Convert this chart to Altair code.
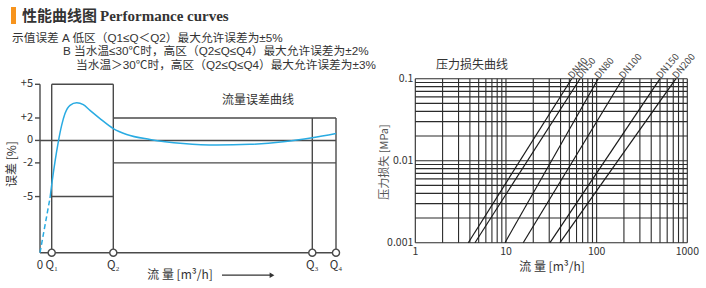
import altair as alt
import pandas as pd

# ---------------- data : left chart (flow error curve) ----------------
q_labels = ["Q₁", "Q₂", "Q₃", "Q₄"]
q_pos = [11.7, 73.3, 272.3, 296.0]          # flow positions (arbitrary units)
low_limit = 5                               # ±5 % low zone
high_limit = 2                              # ±2 % high zone
err_ticks = [5, 2, 0, -2, -5]
err_tick_labels = ["+5", "+2", "0", "-2", "-5"]
err_min = -10

dash_x = [0, 10.0]
dash_y = [-10, -5.13]
curve_x = [10.0, 11.7, 15.0, 18.3, 21.7, 25.0, 30.0, 36.7, 43.3, 50.0, 60.0,
           73.3, 86.7, 110.0, 143.3, 176.7, 210.0, 243.3, 272.3, 296.0]
curve_y = [-5.13, -3.95, -1.89, -0.12, 1.36, 2.39, 3.13, 3.36, 3.19, 2.68, 1.95,
           1.06, 0.53, 0.09, -0.27, -0.41, -0.35, -0.12, 0.24, 0.62]

# ---------------- data : right chart (pressure loss) ----------------
dn_names = ["DN40", "DN50", "DN80", "DN100", "DN150", "DN200"]
dn_flow_at_min = [3.84, 4.55, 9.75, 15.5, 30.6, 39.4]     # m3/h at 0.001 MPa
dn_flow_at_max = [53.1, 65.6, 104.0, 194.0, 500.0, 750.0]  # m3/h at 0.1 MPa
p_min, p_max = 0.001, 0.1
grid_flow = [1, 2, 3, 4, 5, 6, 7, 8, 9, 10, 20, 30, 40, 50, 60, 70, 80, 90,
             100, 200, 300, 400, 500, 600, 700, 800, 900, 1000]
grid_p = [0.001, 0.002, 0.003, 0.004, 0.005, 0.006, 0.007, 0.008, 0.009,
          0.01, 0.02, 0.03, 0.04, 0.05, 0.06, 0.07, 0.08, 0.09, 0.1]
flow_tick_vals = [1, 10, 100, 1000]
flow_tick_labels = ["1", "10", "100", "1000"]
p_tick_vals = [0.1, 0.01, 0.001]
p_tick_labels = ["0.1", "0.01", "0.001"]

# ---------------- texts ----------------
title_cn = "性能曲线图"
title_en = "Performance curves"
spec_lines = ["示值误差  A 低区（Q1≤Q＜Q2）最大允许误差为±5%",
              "B 当水温≤30℃时，高区（Q2≤Q≤Q4）最大允许误差为±2%",
              "当水温＞30℃时，高区（Q2≤Q≤Q4）最大允许误差为±3%"]
left_note = "流量误差曲线"
left_xtitle = "流 量  [m³/h]"
left_ytitle = "误差  [%]"
right_title = "压力损失曲线"
right_xtitle = "流 量  [m³/h]"
right_ytitle = "压力损失  [MPa]"

FONT = "Noto Sans CJK SC"
SPEC_FONT = "Liberation Sans, Noto Sans CJK SC"
LINE = "#4a4a4a"
TXT = "#333333"

# ---------------- scales ----------------
xL = alt.Scale(domain=[0, 296], range=[40, 336], nice=False, zero=False)
yL = alt.Scale(domain=[-10, 5], range=[252.7, 84.3], nice=False, zero=False)
xR = alt.Scale(type="log", domain=[1, 1000], range=[415.3, 687.3], nice=False)
yR = alt.Scale(type="log", domain=[0.001, 0.1], range=[242.7, 78.7], nice=False)


def XL(f):
    return alt.X(f, type="quantitative", scale=xL, axis=None)


def YL(f):
    return alt.Y(f, type="quantitative", scale=yL, axis=None)


def XR(f):
    return alt.X(f, type="quantitative", scale=xR, axis=None)


def YR(f):
    return alt.Y(f, type="quantitative", scale=yR, axis=None)


layers = []

# ---- left frame segments ----
q1, q2, q3, q4 = q_pos
segs = [
    (0, 0, err_min, low_limit),              # y axis
    (q1, q1, err_min, low_limit),
    (q2, q2, err_min, low_limit),
    (q3, q3, err_min, high_limit),
    (q4, q4, err_min, high_limit),
    (q1, q2, low_limit, low_limit),
    (q1, q2, -low_limit, -low_limit),
    (q2, q4, high_limit, high_limit),
    (q2, q4, -high_limit, -high_limit),
    (0, q4, 0, 0),
    (0, q4, err_min, err_min),
]
seg_df = pd.DataFrame(segs, columns=["x0", "x1", "y0", "y1"])
layers.append(alt.Chart(seg_df).mark_rule(color=LINE, strokeWidth=1.4).encode(
    x=XL("x0"), x2="x1", y=YL("y0"), y2="y1"))

# y ticks
tick_df = pd.DataFrame({"v": err_ticks, "lab": err_tick_labels, "a": [-5] * 5, "b": [0] * 5})
layers.append(alt.Chart(tick_df).mark_rule(color=LINE, strokeWidth=1.4).encode(
    x=XL("a"), x2="b", y=YL("v")))
layers.append(alt.Chart(tick_df).mark_text(align="right", baseline="middle", dx=-2,
                                          font=FONT, fontSize=11, color=TXT).encode(
    x=XL("a"), y=YL("v"), text="lab:N"))

# curve
dash_df = pd.DataFrame({"x": dash_x, "y": dash_y})
layers.append(alt.Chart(dash_df).mark_line(color="#29abe2", strokeWidth=1.5,
                                          strokeDash=[5, 3]).encode(
    x=XL("x"), y=YL("y")))
curve_df = pd.DataFrame({"x": curve_x, "y": curve_y})
layers.append(alt.Chart(curve_df).mark_line(color="#29abe2", strokeWidth=1.5,
                                           interpolate="monotone").encode(
    x=XL("x"), y=YL("y")))

# circles at Q
q_df = pd.DataFrame({"x": q_pos, "y": [err_min] * 4, "lab": q_labels})
layers.append(alt.Chart(q_df).mark_point(shape="circle", filled=True, fill="white",
                                        stroke=LINE, strokeWidth=1.4, size=50,
                                        opacity=1).encode(
    x=XL("x"), y=YL("y")))
xl_df = pd.DataFrame({"x": [0] + q_pos, "y": [err_min] * 5, "lab": ["0"] + q_labels})
layers.append(alt.Chart(xl_df).mark_text(baseline="middle", dy=13, font=FONT,
                                        fontSize=11.5, color=TXT).encode(
    x=XL("x"), y=YL("y"), text="lab:N"))

# arrow
arrow_df = pd.DataFrame({"x0": [182], "x1": [232], "y": [-12.0]})
layers.append(alt.Chart(arrow_df).mark_rule(color=TXT, strokeWidth=1.2).encode(
    x=XL("x0"), x2="x1", y=YL("y")))
layers.append(alt.Chart(arrow_df).mark_point(shape="triangle-right", filled=True,
                                            color=TXT, size=30, opacity=1).encode(
    x=XL("x1"), y=YL("y")))

# ---- right chart ----
gx_df = pd.DataFrame({"x": grid_flow, "y0": [p_min] * len(grid_flow), "y1": [p_max] * len(grid_flow)})
layers.append(alt.Chart(gx_df).mark_rule(color="#2b2b2b", strokeWidth=1.1).encode(
    x=XR("x"), y=YR("y0"), y2="y1"))
gy_df = pd.DataFrame({"y": grid_p, "x0": [1] * len(grid_p), "x1": [1000] * len(grid_p)})
layers.append(alt.Chart(gy_df).mark_rule(color="#2b2b2b", strokeWidth=1.1).encode(
    y=YR("y"), x=XR("x0"), x2="x1"))

dn_df = pd.DataFrame({"name": dn_names, "q0": dn_flow_at_min, "q1": dn_flow_at_max,
                      "p0": [p_min] * 6, "p1": [p_max] * 6})
layers.append(alt.Chart(dn_df).mark_rule(color="#1a1a1a", strokeWidth=1.2).encode(
    x=XR("q0"), x2="q1", y=YR("p0"), y2="p1"))
layers.append(alt.Chart(dn_df).mark_text(align="left", baseline="middle", angle=310,
                                        dx=0, dy=-2, font=FONT, fontSize=9.5,
                                        color="#444444").encode(
    x=XR("q1"), y=YR("p1"), text="name:N"))

ft_df = pd.DataFrame({"x": flow_tick_vals, "y": [p_min] * 4, "lab": flow_tick_labels})
layers.append(alt.Chart(ft_df).mark_text(baseline="middle", dy=9, font=FONT,
                                        fontSize=10.5, color=TXT).encode(
    x=XR("x"), y=YR("y"), text="lab:N"))
pt_df = pd.DataFrame({"x": [1] * 3, "y": p_tick_vals, "lab": p_tick_labels})
layers.append(alt.Chart(pt_df).mark_text(align="right", baseline="middle", dx=-2,
                                        font=FONT, fontSize=10.5, color=TXT).encode(
    x=XR("x"), y=YR("y"), text="lab:N"))

# ---- texts ----
one = pd.DataFrame({"a": [0]})


def label(txt, x, y, size=11, align="left", angle=0, weight="normal",
          font=FONT, color=TXT):
    kw = dict(align=align, baseline="middle", fontSize=size, font=font,
              color=color, fontWeight=weight)
    if angle:
        kw["angle"] = angle
    return alt.Chart(one).mark_text(**kw).encode(
        x=alt.value(x), y=alt.value(y), text=alt.value(txt))


layers.append(alt.Chart(one).mark_rect(color="#f7941d").encode(
    x=alt.value(11), x2=alt.value(16), y=alt.value(7), y2=alt.value(24)))
layers.append(label(title_cn, 22, 16, size=15, weight="bold"))
layers.append(label(title_en, 100, 16, size=15, weight="bold", font="Liberation Serif"))
layers.append(label(spec_lines[0], 12, 37.5, size=11.7, font=SPEC_FONT))
layers.append(label(spec_lines[1], 63, 51, size=11.7, font=SPEC_FONT))
layers.append(label(spec_lines[2], 76, 64.5, size=11.7, font=SPEC_FONT))
layers.append(label(left_note, 258, 100, size=12, align="center"))
layers.append(label(left_xtitle, 180, 275, size=12, align="center"))
layers.append(label(left_ytitle, 12, 164, size=12, align="center", angle=270))
layers.append(label(right_title, 472, 65, size=12, align="center"))
layers.append(label(right_xtitle, 552, 267, size=12, align="center"))
layers.append(label(right_ytitle, 385, 162, size=11, align="center", angle=270,
                    color="#555555"))

chart = alt.layer(*layers).resolve_scale(x="independent", y="independent").properties(
    width=706, height=288, autosize=alt.AutoSizeParams(type="none"), padding=0,
    background="white"
).configure_view(stroke=None)

chart.save("out.html", embed_options={"renderer": "svg", "actions": False})
